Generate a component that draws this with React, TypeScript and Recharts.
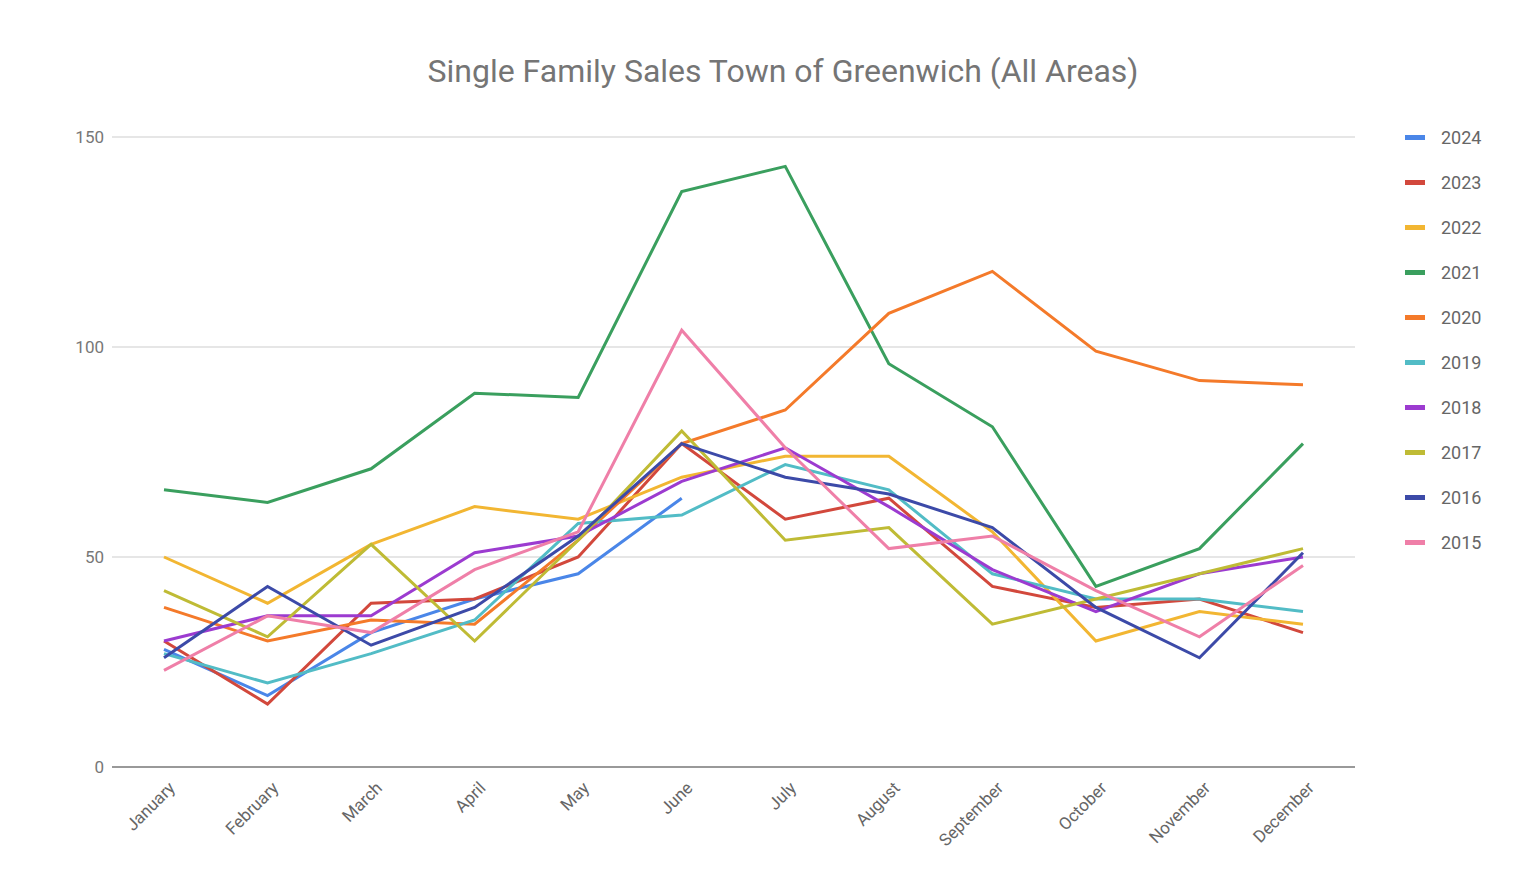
import React from 'react';
import { LineChart, Line, XAxis, YAxis, CartesianGrid, Legend } from 'recharts';

const months = ['January', 'February', 'March', 'April', 'May', 'June', 'July', 'August', 'September', 'October', 'November', 'December'];

const s2024 = [28, 17, 32, 40, 46, 64, null, null, null, null, null, null];
const s2023 = [30, 15, 39, 40, 50, 77, 59, 64, 43, 38, 40, 32];
const s2022 = [50, 39, 53, 62, 59, 69, 74, 74, 56, 30, 37, 34];
const s2021 = [66, 63, 71, 89, 88, 137, 143, 96, 81, 43, 52, 77];
const s2020 = [38, 30, 35, 34, 54, 77, 85, 108, 118, 99, 92, 91];
const s2019 = [27, 20, 27, 35, 58, 60, 72, 66, 46, 40, 40, 37];
const s2018 = [30, 36, 36, 51, 55, 68, 76, 62, 47, 37, 46, 50];
const s2017 = [42, 31, 53, 30, 54, 80, 54, 57, 34, 40, 46, 52];
const s2016 = [26, 43, 29, 38, 55, 77, 69, 65, 57, 38, 26, 51];
const s2015 = [23, 36, 32, 47, 56, 104, 76, 52, 55, 42, 31, 48];

const series = [
  { key: '2024', values: s2024, color: '#4a86e8' },
  { key: '2023', values: s2023, color: '#d2483c' },
  { key: '2022', values: s2022, color: '#f2b632' },
  { key: '2021', values: s2021, color: '#3a9f5e' },
  { key: '2020', values: s2020, color: '#f47a2a' },
  { key: '2019', values: s2019, color: '#52bcc6' },
  { key: '2018', values: s2018, color: '#9c3bd0' },
  { key: '2017', values: s2017, color: '#bfbb35' },
  { key: '2016', values: s2016, color: '#3c4aa8' },
  { key: '2015', values: s2015, color: '#ef7fa8' },
];

const data = months.map((m, i) => {
  const row: Record<string, any> = { month: m };
  series.forEach((s) => { row[s.key] = s.values[i]; });
  return row;
});

const LegendBox = () => (
  <div style={{ position: 'absolute', left: 1397, top: 107 }}>
    {series.map((s) => (
      <div key={s.key} style={{ display: 'flex', alignItems: 'center', height: 45 }}>
        <div style={{ width: 20, height: 5, background: s.color, marginRight: 16 }} />
        <span style={{ fontSize: 18, color: '#666' }}>{s.key}</span>
      </div>
    ))}
  </div>
);

const RotTick = (props: any) => {
  const { x, y, payload } = props;
  return (
    <g transform={`translate(${x + 12},${y + 14})`}>
      <text textAnchor="end" transform="rotate(-45)" fontSize={17} fill="#666">{payload.value}</text>
    </g>
  );
};

export default function App() {
  return (
    <div style={{ position: 'relative', width: 1520, height: 870, fontFamily: 'Roboto, Arial, sans-serif' }}>
      <div style={{ position: 'absolute', top: 44, left: 0, width: 1550, textAlign: 'center', fontSize: 32, color: '#757575' }}>
        Single Family Sales Town of Greenwich (All Areas)
      </div>
      <LineChart width={1520} height={870} data={data} margin={{ top: 129, right: 173, bottom: 11, left: 0 }}>
        <CartesianGrid vertical={false} stroke="#e6e6e6" strokeWidth={2} />
        <XAxis dataKey="month" interval={0} tick={<RotTick />} height={100} padding={{ left: 52, right: 52 }} stroke="#999" strokeWidth={2} tickLine={false} />
        <YAxis width={104} domain={[0, 150]} ticks={[0, 50, 100, 150]} axisLine={false} tickLine={false} tick={{ fontSize: 17, fill: '#777' }} />
        <Legend content={() => null} />
        {series.map((s) => (
          <Line key={s.key} dataKey={s.key} stroke={s.color} strokeWidth={3} dot={false} isAnimationActive={false} connectNulls={false} />
        ))}
      </LineChart>
      <LegendBox />
    </div>
  );
}
